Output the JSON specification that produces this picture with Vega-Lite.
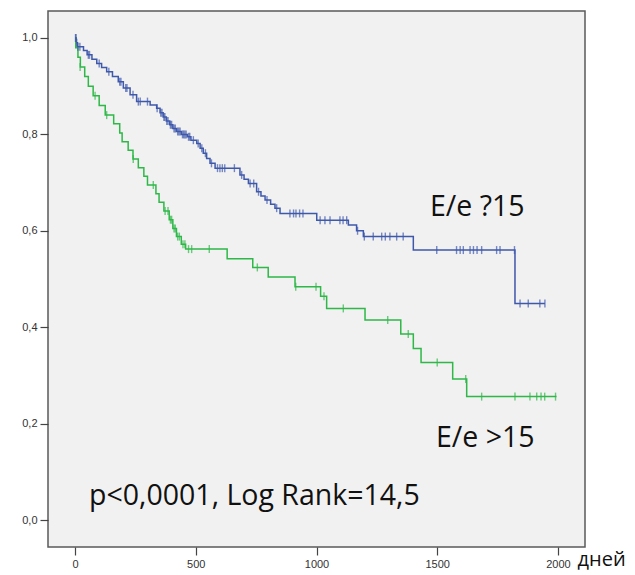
{
  "$schema": "https://vega.github.io/schema/vega-lite/v6.json",
  "autosize": "none",
  "width": 537,
  "height": 536,
  "padding": {"left": 48, "top": 11, "right": 50, "bottom": 28},
  "background": "white",
  "config": {
    "view": {"stroke": "#5a5a5a", "strokeWidth": 1.5, "fill": "#f1f1f1"},
    "axis": {"grid": false, "domain": false, "tickColor": "#444", "tickSize": 8, "tickWidth": 1.2, "labelFont": "Liberation Sans", "labelFontSize": 11, "labelColor": "#333", "labelPadding": 3}
  },
  "datasets": {
    "steps": [
      {"group": "low", "t": 0, "s": 1.0},
      {"group": "low", "t": 5, "s": 0.99},
      {"group": "low", "t": 10, "s": 0.982},
      {"group": "low", "t": 35, "s": 0.974},
      {"group": "low", "t": 50, "s": 0.965},
      {"group": "low", "t": 70, "s": 0.956},
      {"group": "low", "t": 90, "s": 0.947},
      {"group": "low", "t": 110, "s": 0.939},
      {"group": "low", "t": 131, "s": 0.93},
      {"group": "low", "t": 155, "s": 0.92},
      {"group": "low", "t": 179, "s": 0.909},
      {"group": "low", "t": 200, "s": 0.896},
      {"group": "low", "t": 228, "s": 0.882},
      {"group": "low", "t": 255, "s": 0.868},
      {"group": "low", "t": 311, "s": 0.861},
      {"group": "low", "t": 338, "s": 0.854},
      {"group": "low", "t": 352, "s": 0.845},
      {"group": "low", "t": 365, "s": 0.836},
      {"group": "low", "t": 378, "s": 0.828},
      {"group": "low", "t": 392, "s": 0.82},
      {"group": "low", "t": 405, "s": 0.812},
      {"group": "low", "t": 420, "s": 0.806},
      {"group": "low", "t": 440, "s": 0.8},
      {"group": "low", "t": 465, "s": 0.795},
      {"group": "low", "t": 480, "s": 0.788},
      {"group": "low", "t": 504, "s": 0.781},
      {"group": "low", "t": 518, "s": 0.771},
      {"group": "low", "t": 531, "s": 0.761},
      {"group": "low", "t": 545, "s": 0.75},
      {"group": "low", "t": 559, "s": 0.74},
      {"group": "low", "t": 580, "s": 0.73},
      {"group": "low", "t": 683, "s": 0.716},
      {"group": "low", "t": 700, "s": 0.707},
      {"group": "low", "t": 718, "s": 0.698},
      {"group": "low", "t": 752, "s": 0.681},
      {"group": "low", "t": 770, "s": 0.672},
      {"group": "low", "t": 787, "s": 0.664},
      {"group": "low", "t": 810, "s": 0.655},
      {"group": "low", "t": 828, "s": 0.647},
      {"group": "low", "t": 849, "s": 0.636},
      {"group": "low", "t": 1001, "s": 0.622},
      {"group": "low", "t": 1132, "s": 0.612},
      {"group": "low", "t": 1166, "s": 0.6},
      {"group": "low", "t": 1194, "s": 0.588},
      {"group": "low", "t": 1401, "s": 0.56},
      {"group": "low", "t": 1822, "s": 0.449},
      {"group": "low", "t": 1946, "s": 0.449},
      {"group": "high", "t": 0, "s": 1.0},
      {"group": "high", "t": 3, "s": 0.98},
      {"group": "high", "t": 12, "s": 0.96},
      {"group": "high", "t": 22, "s": 0.94},
      {"group": "high", "t": 40, "s": 0.92},
      {"group": "high", "t": 55, "s": 0.9},
      {"group": "high", "t": 75, "s": 0.88},
      {"group": "high", "t": 100, "s": 0.86},
      {"group": "high", "t": 125, "s": 0.84},
      {"group": "high", "t": 160, "s": 0.822},
      {"group": "high", "t": 185, "s": 0.803},
      {"group": "high", "t": 195, "s": 0.785},
      {"group": "high", "t": 220, "s": 0.767},
      {"group": "high", "t": 240, "s": 0.749},
      {"group": "high", "t": 262, "s": 0.731},
      {"group": "high", "t": 285, "s": 0.713},
      {"group": "high", "t": 300, "s": 0.695},
      {"group": "high", "t": 335, "s": 0.677},
      {"group": "high", "t": 348, "s": 0.659},
      {"group": "high", "t": 368, "s": 0.641},
      {"group": "high", "t": 390, "s": 0.623},
      {"group": "high", "t": 405, "s": 0.605},
      {"group": "high", "t": 420, "s": 0.588},
      {"group": "high", "t": 440, "s": 0.572},
      {"group": "high", "t": 458, "s": 0.562},
      {"group": "high", "t": 630, "s": 0.542},
      {"group": "high", "t": 736, "s": 0.524},
      {"group": "high", "t": 800, "s": 0.504},
      {"group": "high", "t": 911, "s": 0.484},
      {"group": "high", "t": 1017, "s": 0.464},
      {"group": "high", "t": 1042, "s": 0.439},
      {"group": "high", "t": 1201, "s": 0.415},
      {"group": "high", "t": 1349, "s": 0.386},
      {"group": "high", "t": 1401, "s": 0.356},
      {"group": "high", "t": 1433, "s": 0.327},
      {"group": "high", "t": 1564, "s": 0.2925},
      {"group": "high", "t": 1622, "s": 0.256},
      {"group": "high", "t": 1994, "s": 0.256}
    ],
    "censors": [
      {"group": "low", "t": 2, "s": 1.0},
      {"group": "low", "t": 4, "s": 1.0},
      {"group": "low", "t": 7, "s": 0.99},
      {"group": "low", "t": 12, "s": 0.982},
      {"group": "low", "t": 20, "s": 0.982},
      {"group": "low", "t": 55, "s": 0.965},
      {"group": "low", "t": 60, "s": 0.965},
      {"group": "low", "t": 100, "s": 0.947},
      {"group": "low", "t": 140, "s": 0.93},
      {"group": "low", "t": 185, "s": 0.909},
      {"group": "low", "t": 190, "s": 0.909},
      {"group": "low", "t": 210, "s": 0.896},
      {"group": "low", "t": 215, "s": 0.896},
      {"group": "low", "t": 240, "s": 0.882},
      {"group": "low", "t": 262, "s": 0.868},
      {"group": "low", "t": 270, "s": 0.868},
      {"group": "low", "t": 300, "s": 0.868},
      {"group": "low", "t": 340, "s": 0.854},
      {"group": "low", "t": 355, "s": 0.845},
      {"group": "low", "t": 360, "s": 0.845},
      {"group": "low", "t": 368, "s": 0.836},
      {"group": "low", "t": 372, "s": 0.836},
      {"group": "low", "t": 380, "s": 0.828},
      {"group": "low", "t": 385, "s": 0.828},
      {"group": "low", "t": 395, "s": 0.82},
      {"group": "low", "t": 400, "s": 0.82},
      {"group": "low", "t": 410, "s": 0.812},
      {"group": "low", "t": 415, "s": 0.812},
      {"group": "low", "t": 425, "s": 0.806},
      {"group": "low", "t": 430, "s": 0.806},
      {"group": "low", "t": 435, "s": 0.806},
      {"group": "low", "t": 445, "s": 0.8},
      {"group": "low", "t": 450, "s": 0.8},
      {"group": "low", "t": 455, "s": 0.8},
      {"group": "low", "t": 460, "s": 0.8},
      {"group": "low", "t": 470, "s": 0.795},
      {"group": "low", "t": 475, "s": 0.795},
      {"group": "low", "t": 490, "s": 0.788},
      {"group": "low", "t": 510, "s": 0.781},
      {"group": "low", "t": 525, "s": 0.771},
      {"group": "low", "t": 540, "s": 0.761},
      {"group": "low", "t": 565, "s": 0.74},
      {"group": "low", "t": 590, "s": 0.73},
      {"group": "low", "t": 600, "s": 0.73},
      {"group": "low", "t": 610, "s": 0.73},
      {"group": "low", "t": 620, "s": 0.73},
      {"group": "low", "t": 660, "s": 0.73},
      {"group": "low", "t": 690, "s": 0.716},
      {"group": "low", "t": 725, "s": 0.698},
      {"group": "low", "t": 740, "s": 0.698},
      {"group": "low", "t": 760, "s": 0.681},
      {"group": "low", "t": 795, "s": 0.664},
      {"group": "low", "t": 835, "s": 0.647},
      {"group": "low", "t": 890, "s": 0.636},
      {"group": "low", "t": 905, "s": 0.636},
      {"group": "low", "t": 915, "s": 0.636},
      {"group": "low", "t": 930, "s": 0.636},
      {"group": "low", "t": 944, "s": 0.636},
      {"group": "low", "t": 1015, "s": 0.622},
      {"group": "low", "t": 1035, "s": 0.622},
      {"group": "low", "t": 1056, "s": 0.622},
      {"group": "low", "t": 1097, "s": 0.622},
      {"group": "low", "t": 1110, "s": 0.622},
      {"group": "low", "t": 1125, "s": 0.622},
      {"group": "low", "t": 1170, "s": 0.6},
      {"group": "low", "t": 1198, "s": 0.588},
      {"group": "low", "t": 1235, "s": 0.588},
      {"group": "low", "t": 1270, "s": 0.588},
      {"group": "low", "t": 1285, "s": 0.588},
      {"group": "low", "t": 1304, "s": 0.588},
      {"group": "low", "t": 1332, "s": 0.588},
      {"group": "low", "t": 1359, "s": 0.588},
      {"group": "low", "t": 1498, "s": 0.56},
      {"group": "low", "t": 1580, "s": 0.56},
      {"group": "low", "t": 1595, "s": 0.56},
      {"group": "low", "t": 1608, "s": 0.56},
      {"group": "low", "t": 1636, "s": 0.56},
      {"group": "low", "t": 1650, "s": 0.56},
      {"group": "low", "t": 1665, "s": 0.56},
      {"group": "low", "t": 1684, "s": 0.56},
      {"group": "low", "t": 1746, "s": 0.56},
      {"group": "low", "t": 1760, "s": 0.56},
      {"group": "low", "t": 1820, "s": 0.56},
      {"group": "low", "t": 1843, "s": 0.449},
      {"group": "low", "t": 1877, "s": 0.449},
      {"group": "low", "t": 1925, "s": 0.449},
      {"group": "low", "t": 1946, "s": 0.449},
      {"group": "high", "t": 21, "s": 0.94},
      {"group": "high", "t": 83, "s": 0.88},
      {"group": "high", "t": 131, "s": 0.84},
      {"group": "high", "t": 241, "s": 0.749},
      {"group": "high", "t": 324, "s": 0.695},
      {"group": "high", "t": 373, "s": 0.641},
      {"group": "high", "t": 385, "s": 0.641},
      {"group": "high", "t": 395, "s": 0.623},
      {"group": "high", "t": 400, "s": 0.623},
      {"group": "high", "t": 410, "s": 0.605},
      {"group": "high", "t": 415, "s": 0.605},
      {"group": "high", "t": 425, "s": 0.588},
      {"group": "high", "t": 432, "s": 0.588},
      {"group": "high", "t": 447, "s": 0.572},
      {"group": "high", "t": 455, "s": 0.572},
      {"group": "high", "t": 470, "s": 0.562},
      {"group": "high", "t": 483, "s": 0.562},
      {"group": "high", "t": 556, "s": 0.562},
      {"group": "high", "t": 755, "s": 0.524},
      {"group": "high", "t": 914, "s": 0.484},
      {"group": "high", "t": 998, "s": 0.484},
      {"group": "high", "t": 1031, "s": 0.464},
      {"group": "high", "t": 1111, "s": 0.439},
      {"group": "high", "t": 1295, "s": 0.415},
      {"group": "high", "t": 1380, "s": 0.386},
      {"group": "high", "t": 1500, "s": 0.327},
      {"group": "high", "t": 1618, "s": 0.2925},
      {"group": "high", "t": 1684, "s": 0.256},
      {"group": "high", "t": 1822, "s": 0.256},
      {"group": "high", "t": 1884, "s": 0.256},
      {"group": "high", "t": 1912, "s": 0.256},
      {"group": "high", "t": 1930, "s": 0.256},
      {"group": "high", "t": 1945, "s": 0.256},
      {"group": "high", "t": 1990, "s": 0.256}
    ],
    "labels": [
      {"label": "E/e ?15", "t": 1470, "s": 0.631},
      {"label": "E/e >15", "t": 1495, "s": 0.151},
      {"label": "p<0,0001, Log Rank=14,5", "t": 58, "s": 0.031}
    ]
  },
  "encoding": {
    "x": {"field": "t", "type": "quantitative",
      "scale": {"domain": [-112, 2112], "nice": false, "zero": false},
      "axis": {"values": [0, 500, 1000, 1500, 2000], "format": "d", "title": "дней", "titleFont": "Open Sans", "titleFontSize": 20, "titleFontWeight": "normal", "titleColor": "#111", "titleAnchor": "start", "titleAlign": "left", "titleBaseline": "alphabetic", "titleX": 529, "titleY": 18}},
    "y": {"field": "s", "type": "quantitative",
      "scale": {"domain": [-0.056, 1.056], "nice": false, "zero": false},
      "axis": {"values": [0, 0.2, 0.4, 0.6, 0.8, 1.0], "labelExpr": "replace(format(datum.value, '.1f'), '.', ',')", "title": null}}
  },
  "layer": [
    {
      "data": {"name": "steps"},
      "mark": {"type": "line", "interpolate": "step-after", "strokeWidth": 1.5},
      "encoding": {
        "color": {"field": "group", "type": "nominal", "scale": {"domain": ["low", "high"], "range": ["#3E58AC", "#2EB848"]}, "legend": null},
        "detail": {"field": "group"}
      }
    },
    {
      "data": {"name": "censors"},
      "mark": {"type": "tick", "orient": "vertical", "size": 8, "thickness": 1.4},
      "encoding": {
        "color": {"field": "group", "type": "nominal", "scale": {"domain": ["low", "high"], "range": ["#3E58AC", "#2EB848"]}, "legend": null}
      }
    },
    {
      "data": {"name": "labels"},
      "mark": {"type": "text", "font": "Open Sans", "fontSize": 28.5, "align": "left", "baseline": "alphabetic", "color": "#111"},
      "encoding": {"text": {"field": "label"}}
    }
  ]
}
